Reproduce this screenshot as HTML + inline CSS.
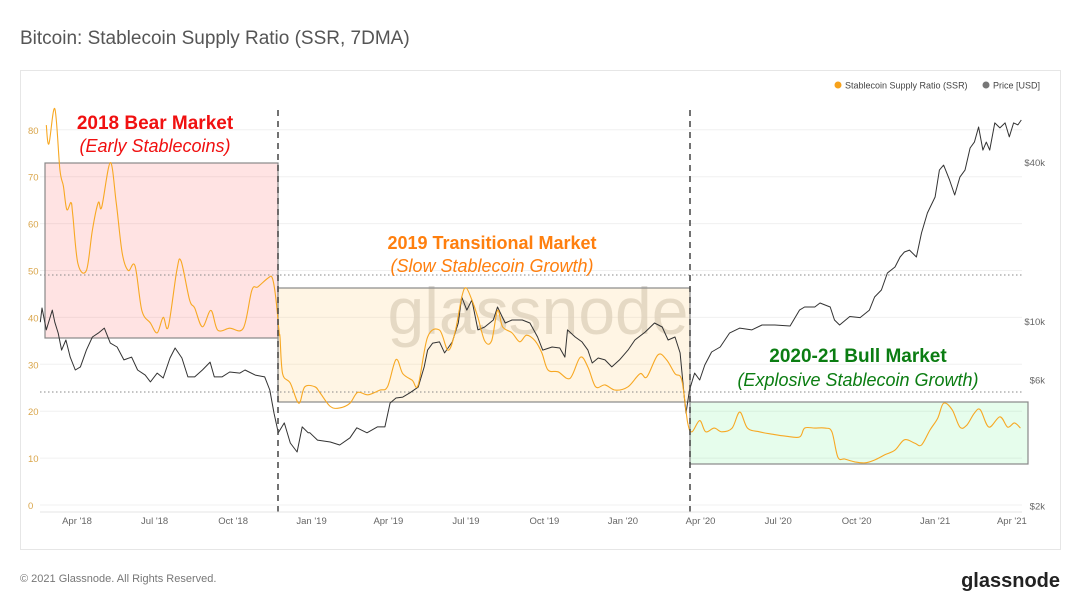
<!DOCTYPE html>
<html><head><meta charset="utf-8">
<style>
body{margin:0;background:#fff;width:1080px;height:608px;overflow:hidden;font-family:"Liberation Sans",sans-serif;}
svg{display:block}
</style></head>
<body>
<svg width="1080" height="608" viewBox="0 0 1080 608" id="chart">
<text x="20" y="44" font-size="19" fill="#555">Bitcoin: Stablecoin Supply Ratio (SSR, 7DMA)</text>
<rect x="20.5" y="70.5" width="1040" height="479" fill="#fff" stroke="#e6e6e6"/>
<g id="grid"></g>
<text x="538" y="334" text-anchor="middle" font-size="66" fill="#d8d4cf" opacity="0.8">glassnode</text>
<rect x="45" y="163" width="233" height="175" fill="rgba(255,60,60,0.14)" stroke="#888" stroke-width="1.2"/>
<rect x="278" y="288" width="412" height="114" fill="rgba(255,205,120,0.2)" stroke="#888" stroke-width="1.2"/>
<rect x="690" y="402" width="338" height="62" fill="rgba(60,240,110,0.13)" stroke="#888" stroke-width="1.2"/>
<line x1="40" y1="275" x2="1022" y2="275" stroke="#888" stroke-dasharray="1.5,2.5"/>
<line x1="40" y1="392" x2="1022" y2="392" stroke="#888" stroke-dasharray="1.5,2.5"/>
<g id="series"></g>
<line x1="278" y1="110" x2="278" y2="512" stroke="#444" stroke-width="1.5" stroke-dasharray="6,5"/>
<line x1="690" y1="110" x2="690" y2="512" stroke="#444" stroke-width="1.5" stroke-dasharray="6,5"/>
<g id="axes"></g>
<text x="155" y="129" text-anchor="middle" font-size="19" font-weight="bold" fill="#f01010">2018 Bear Market</text>
<text x="155" y="152" text-anchor="middle" font-size="18" font-style="italic" fill="#f01010">(Early Stablecoins)</text>
<text x="492" y="249" text-anchor="middle" font-size="18" font-weight="bold" fill="#ff7f0e">2019 Transitional Market</text>
<text x="492" y="272" text-anchor="middle" font-size="18" font-style="italic" fill="#ff7f0e">(Slow Stablecoin Growth)</text>
<text x="858" y="362" text-anchor="middle" font-size="19" font-weight="bold" fill="#0b7d12">2020-21 Bull Market</text>
<text x="858" y="386" text-anchor="middle" font-size="18" font-style="italic" fill="#0b7d12">(Explosive Stablecoin Growth)</text>
<g>
<circle cx="838" cy="85" r="3.5" fill="#f7a21b"/>
<text x="845" y="88.5" font-size="9" fill="#444">Stablecoin Supply Ratio (SSR)</text>
<circle cx="986" cy="85" r="3.5" fill="#777"/>
<text x="993" y="88.5" font-size="9" fill="#444">Price [USD]</text>
</g>
<text x="20" y="582" font-size="11" fill="#777">© 2021 Glassnode. All Rights Reserved.</text>
<text x="1060" y="587" text-anchor="end" font-size="20" font-weight="bold" fill="#222">glassnode</text>
</svg>
<script>
// days since 2018-04-01
const ssrDays=[-36,-33,-26,-20,-16,-12,-7,-5,1,11,18,25,29,39,46,53,60,68,76,86,94,101,107,117,122,132,138,147,157,165,179,195,205,212,224,229,233,237,238,241,250,260,267,279,285,297,308,320,329,341,355,364,374,382,393,400,411,425,435,443,451,456,463,470,478,486,493,499,510,519,527,537,545,552,564,578,590,599,608,619,631,646,660,668,681,691,701,709,716,721,730,737,747,756,768,777,786,800,815,830,847,853,865,877,885,892,900,912,924,935,947,959,970,982,990,1000,1009,1016,1026,1035,1043,1052,1059,1069,1082,1091,1099,1106];
const ssrValues=[81,77,84.5,71.5,68,63,64.5,62,51.5,50,58.6,64.5,63.5,73,64.5,53.7,50,51,41.5,38.8,36.7,40,38,50,52,43.7,42,38,41.5,37.3,37.7,37.7,45.8,46.5,48.4,48.4,44.3,36.7,35.8,28,26,21.7,25.2,25.2,23.9,21,20.7,21.7,24,23.5,24.5,25.2,31,28,26.6,25.6,35.8,37.3,33,36.7,44.3,46.3,43.7,40,35,35,41.5,38,36.7,34.8,36.2,35,32.4,28.8,28.4,27,31.5,29.4,25.2,25.6,24.5,25.2,28,27.3,32,31,28,26.6,17.5,15.6,18,15.6,16.4,15.6,16.4,19.8,16.4,15.6,15.1,14.7,14.5,16.4,16.4,16.4,15.6,10.2,9.8,9.2,9,9.6,10.7,11.7,13.9,13.2,12.8,16,18.5,21.7,20.3,16.6,17,19.6,20.3,16.6,18.8,16.6,17.5,16.4];
const priceDays=[-43,-41,-36,-29,-26,-22,-18,-13,-8,-2,4,11,18,25,32,39,47,55,64,71,80,86,94,101,109,115,123,130,138,147,156,161,170,179,191,197,209,220,226,231,236,243,250,258,264,271,273,282,297,308,320,328,340,352,361,367,374,382,390,400,407,411,417,425,431,440,447,451,457,463,470,478,488,493,502,510,522,531,540,546,557,566,572,575,584,592,599,604,611,619,627,636,646,654,666,677,686,693,701,707,712,714,718,724,730,736,744,754,765,777,791,803,818,836,847,853,865,871,883,888,894,906,918,929,935,943,950,959,965,970,976,984,990,997,1006,1011,1016,1023,1029,1035,1041,1047,1052,1057,1062,1066,1070,1076,1082,1088,1093,1098,1103,1107];
const priceValues=[9900,11200,9250,11000,9900,9000,7760,8470,7300,6520,6700,7760,8700,9000,9400,8250,7970,7120,7300,6520,6240,5880,6350,6080,7240,7900,7240,6140,6140,6520,6990,6140,6140,6410,6350,6520,6240,6140,5480,4480,3770,4110,3450,3190,3970,3770,3770,3540,3480,3390,3610,3940,3770,3970,3970,4890,5110,5150,5340,5620,6700,7760,8250,8330,7570,8330,9830,12330,11000,12010,9250,9490,10090,11300,9830,10090,10090,9830,8700,7760,7970,7900,7300,9250,8700,8330,7760,6930,7240,7120,6700,7120,7760,8470,9080,9830,9490,8470,8700,7570,5150,4480,5480,6350,5980,6810,7630,7970,9000,9400,9250,9660,9660,9570,11000,11300,11300,11700,11300,10090,9660,10400,10300,11000,12330,13100,15200,16020,17480,18250,18560,17480,21540,25660,29500,37280,38960,34190,30000,35080,37280,45200,47600,54300,44400,47600,44400,56300,53900,56300,49800,56300,55300,57700];
const leftTicks=[0,10,20,30,40,50,60,70,80];
const rightTicks=[2000,6000,10000,40000];
const rightTickLabels=['$2k','$6k','$10k','$40k'];
const xTickDays=[0,91,183,275,365,456,548,640,731,822,914,1006,1096];
const xTickLabels=["Apr '18","Jul '18","Oct '18","Jan '19","Apr '19","Jul '19","Oct '19","Jan '20","Apr '20","Jul '20","Oct '20","Jan '21","Apr '21"];

const NS='http://www.w3.org/2000/svg';
const xS=d=>77+d*0.853;
const yL=v=>505-v*4.69;
const yR=p=>321-(Math.log10(p)-4)*264;
function mk(tag,attrs,parent){const e=document.createElementNS(NS,tag);for(const k in attrs)e.setAttribute(k,attrs[k]);parent.appendChild(e);return e;}
function smooth(pts){let d='M'+pts[0][0].toFixed(1)+','+pts[0][1].toFixed(1);
  for(let i=0;i<pts.length-1;i++){const p0=pts[i-1]||pts[i],p1=pts[i],p2=pts[i+1],p3=pts[i+2]||p2;
    const c1x=p1[0]+(p2[0]-p0[0])/6,c1y=p1[1]+(p2[1]-p0[1])/6,c2x=p2[0]-(p3[0]-p1[0])/6,c2y=p2[1]-(p3[1]-p1[1])/6;
    d+='C'+c1x.toFixed(1)+','+c1y.toFixed(1)+' '+c2x.toFixed(1)+','+c2y.toFixed(1)+' '+p2[0].toFixed(1)+','+p2[1].toFixed(1);}
  return d;}
const grid=document.getElementById('grid'),axes=document.getElementById('axes'),series=document.getElementById('series');
leftTicks.forEach(v=>{
  const g=mk('line',{x1:40,x2:1022,y1:yL(v),y2:yL(v),stroke:'#f0f0f0'},grid);
  
  
  const t=mk('text',{x:28,y:yL(v)+4,'font-size':9.5,fill:'#d9a54a'},axes);
  t.textContent=v;
  
  
});
rightTicks.forEach((p,i)=>{
  const t=mk('text',{x:1045,y:yR(p)+4,'font-size':9.5,fill:'#666','text-anchor':'end'},axes);
  t.textContent=rightTickLabels[i];
  
  
});
mk('line',{x1:40,x2:1022,y1:512,y2:512,stroke:'#e6e6e6'},axes);
xTickDays.forEach((d,i)=>{
  const t=mk('text',{x:xS(d),y:524,'font-size':9.5,fill:'#666','text-anchor':'middle'},axes);
  t.textContent=xTickLabels[i];
  
  
});
const pp=mk('path',{d:priceDays.map((d,i)=>(i?'L':'M')+xS(d).toFixed(1)+','+yR(priceValues[i]).toFixed(1)).join(''),fill:'none',stroke:'#333','stroke-width':1,'stroke-linejoin':'round'},series);


const sp=mk('path',{d:smooth(ssrDays.map((d,i)=>[xS(d),yL(ssrValues[i])])),fill:'none',stroke:'#f7a823','stroke-width':1.1,'stroke-linejoin':'round'},series);


</script>
</body></html>
